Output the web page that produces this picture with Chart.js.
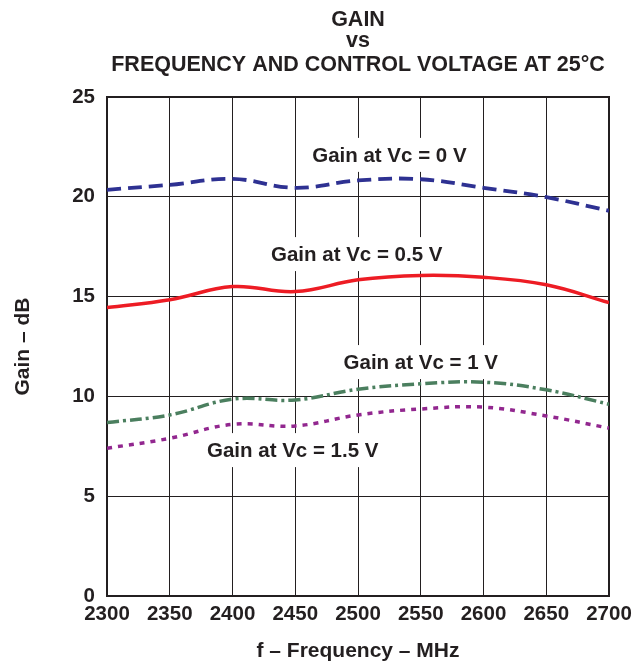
<!DOCTYPE html>
<html>
<head>
<meta charset="utf-8">
<script src="https://cdn.jsdelivr.net/npm/chart.js@4/dist/chart.umd.min.js"></script>
<style>
html,body{margin:0;padding:0;background:#fff;}
#wrap{width:632px;height:664px;}
</style>
</head>
<body>
<div id="wrap"><canvas id="c" width="632" height="664"></canvas></div>
<script>
const frequencies = [2300, 2350, 2400, 2450, 2500, 2550, 2600, 2650, 2700];
const gainVc0   = [20.35, 20.6, 20.9, 20.45, 20.82, 20.88, 20.45, 19.98, 19.3];
const gainVc05  = [14.45, 14.84, 15.5, 15.25, 15.84, 16.06, 15.97, 15.59, 14.7];
const gainVc1   = [8.69, 9.07, 9.86, 9.82, 10.36, 10.63, 10.71, 10.33, 9.61];
const gainVc15  = [7.40, 7.90, 8.60, 8.52, 9.07, 9.37, 9.46, 9.02, 8.41];
const xTicks = [2300, 2350, 2400, 2450, 2500, 2550, 2600, 2650, 2700];
const yTicks = [0, 5, 10, 15, 20, 25];
const titleLines = ['GAIN', 'vs', 'FREQUENCY AND CONTROL VOLTAGE AT 25°C'];
const seriesLabels = ['Gain at Vc = 0 V', 'Gain at Vc = 0.5 V', 'Gain at Vc = 1 V', 'Gain at Vc = 1.5 V'];
// annotation anchors in data coordinates (freq, gain)
const labelFreq = [2525, 2499, 2550, 2448];
const labelGain = [22.1, 17.13, 11.72, 7.31];

const FONT = '"Liberation Sans", Arial, Helvetica, sans-serif';
const pts = (ys) => frequencies.map((f, i) => ({x: f, y: ys[i]}));

const decor = {
  id: 'decor',
  beforeDatasetsDraw(chart) {
    const ctx = chart.ctx, xs = chart.scales.x, ys = chart.scales.y;
    ctx.save();
    ctx.font = 'bold 20.5px ' + FONT;
    ctx.textAlign = 'center';
    ctx.textBaseline = 'middle';
    seriesLabels.forEach((t, i) => {
      const px = xs.getPixelForValue(labelFreq[i]);
      const py = ys.getPixelForValue(labelGain[i]);
      const w = ctx.measureText(t).width;
      ctx.fillStyle = '#ffffff';
      ctx.fillRect(px - w / 2 - 10, py - 17, w + 20, 34);
      ctx.fillStyle = '#231f20';
      ctx.fillText(t, px, py + 1);
    });
    const a = chart.chartArea;
    ctx.strokeStyle = '#231f20';
    ctx.lineWidth = 2;
    ctx.strokeRect(a.left, a.top, a.right - a.left, a.bottom - a.top);
    ctx.restore();
  },
  afterDraw(chart) {
    const ctx = chart.ctx;
    const a = chart.chartArea;
    const cx = (a.left + a.right) / 2;
    ctx.save();
    ctx.fillStyle = '#231f20';
    ctx.font = 'bold 21.5px ' + FONT;
    ctx.textAlign = 'center';
    ctx.textBaseline = 'middle';
    ctx.fillText(titleLines[0], cx, 20);
    ctx.fillText(titleLines[1], cx, 41);
    ctx.fillText(titleLines[2], cx, 65);
    ctx.restore();
  }
};

new Chart(document.getElementById('c'), {
  type: 'line',
  data: {
    datasets: [
      {label: seriesLabels[0], data: pts(gainVc0), borderColor: '#2e3192', borderWidth: 3.8, borderDash: [14, 7], pointRadius: 0, tension: 0.4, fill: false},
      {label: seriesLabels[1], data: pts(gainVc05), borderColor: '#ed1c24', borderWidth: 3.5, pointRadius: 0, tension: 0.4, fill: false},
      {label: seriesLabels[2], data: pts(gainVc1), borderColor: '#4b7f5f', borderWidth: 3.5, borderDash: [12, 4, 3, 4], pointRadius: 0, tension: 0.4, fill: false},
      {label: seriesLabels[3], data: pts(gainVc15), borderColor: '#92278f', borderWidth: 3.5, borderDash: [5, 6], pointRadius: 0, tension: 0.4, fill: false}
    ]
  },
  options: {
    responsive: false,
    animation: false,
    devicePixelRatio: 1,
    layout: {padding: {left: 0, right: 23, top: 97, bottom: 0}},
    plugins: {legend: {display: false}, tooltip: {enabled: false}, title: {display: false}},
    scales: {
      x: {
        type: 'linear', min: 2300, max: 2700,
        afterBuildTicks: (s) => { s.ticks = xTicks.map(v => ({value: v})); },
        afterFit: (s) => { s.height = 68; s.paddingLeft = 0; s.paddingRight = 0; },
        grid: {color: '#231f20', lineWidth: 1, drawTicks: false},
        border: {display: false},
        ticks: {color: '#231f20', font: {family: FONT, size: 20.5, weight: 'bold'}, padding: 6, maxRotation: 0, autoSkip: false, callback: (v) => String(v)},
        title: {display: true, text: 'f – Frequency – MHz', color: '#231f20', font: {family: FONT, size: 21, weight: 'bold'}, padding: {top: 0, bottom: 0}}
      },
      y: {
        min: 0, max: 25,
        afterBuildTicks: (s) => { s.ticks = yTicks.map(v => ({value: v})); },
        afterFit: (s) => { s.width = 107; s.paddingTop = 0; s.paddingBottom = 0; },
        grid: {color: '#231f20', lineWidth: 1, drawTicks: false},
        border: {display: false},
        ticks: {color: '#231f20', font: {family: FONT, size: 20.5, weight: 'bold'}, padding: 12, callback: (v) => String(v)},
        title: {display: true, text: 'Gain – dB', color: '#231f20', font: {family: FONT, size: 21, weight: 'bold'}, padding: {top: 11, bottom: 11}}
      }
    }
  },
  plugins: [decor]
});
</script>
</body>
</html>
